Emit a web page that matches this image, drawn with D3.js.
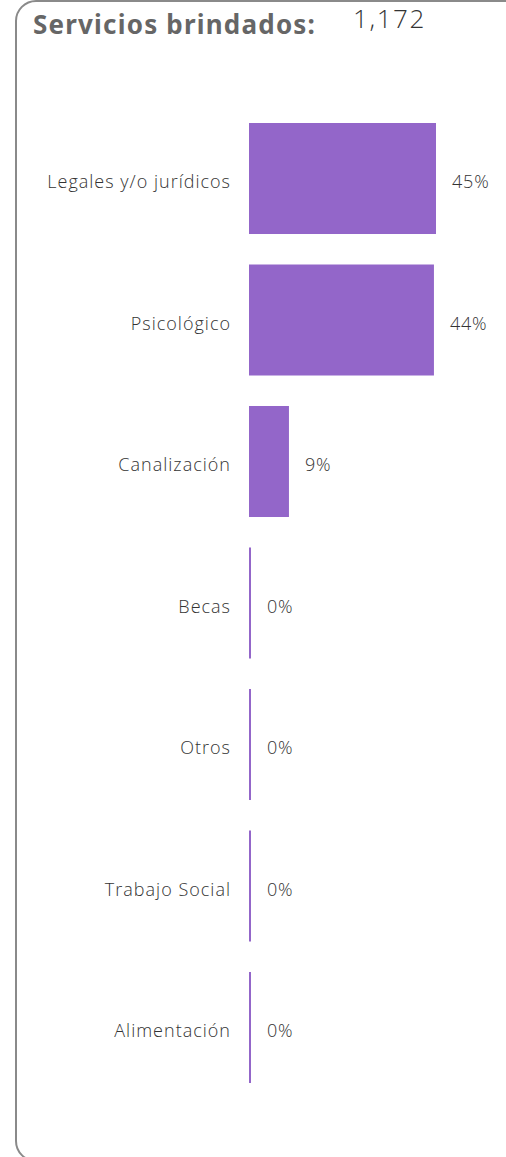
<!DOCTYPE html>
<html><head><meta charset="utf-8">
<script src="https://cdn.jsdelivr.net/npm/d3@7"></script>
<style>html,body{margin:0;padding:0;background:#fff;overflow:hidden}</style>
</head><body>
<svg id="chart" width="506" height="1157"></svg>
<script>
const categories = ["Legales y/o jurídicos","Psicológico","Canalización","Becas","Otros","Trabajo Social","Alimentación"];
const values = [45.4, 44.9, 9.7, 0, 0, 0, 0];
const totalLabel = "1,172";
const titleText = "Servicios brindados:";

const svg = d3.select("#chart");
svg.append("rect").attr("x",16).attr("y",1).attr("width",620).attr("height",1160)
  .attr("rx",20).attr("fill","none").attr("stroke","#8a8a8a").attr("stroke-width",2);

svg.append("text").attr("x",33).attr("y",34).text(titleText)
  .attr("font-family","'Noto Sans', sans-serif").attr("font-weight",700)
  .attr("font-size",26).attr("fill","#666").attr("letter-spacing","1.2px");
svg.append("text").attr("x",353).attr("y",28).text(totalLabel)
  .attr("font-family","'Open Sans', sans-serif").attr("font-weight",300)
  .attr("font-size",26).attr("fill","#333").attr("letter-spacing","1.6px");

const y = d3.scaleBand().domain(categories).range([123, 1083]).paddingInner(0.2155).paddingOuter(0);
const x = d3.scaleLinear().domain([0, 45.4]).range([249, 436]);

const g = svg.append("g");
g.selectAll("rect.bar").data(values).join("rect").attr("class","bar")
  .attr("x", x(0)).attr("y",(d,i)=>y(categories[i]))
  .attr("width", d=>Math.max(2, x(d)-x(0))).attr("height", y.bandwidth())
  .attr("fill","#9366c9");

const axis = d3.axisLeft(y).tickSize(0).tickPadding(18);
const ax = svg.append("g").attr("transform",`translate(${x(0)},0)`).call(axis);
ax.select(".domain").remove();
ax.selectAll("text").attr("font-family","'Open Sans', sans-serif").attr("font-weight",300).attr("font-size",18)
  .attr("fill","#333").attr("dy","0.53em").attr("letter-spacing","1px");

g.selectAll("text.val").data(values).join("text").attr("class","val")
  .attr("x", d=>x(0)+Math.max(2, x(d)-x(0))+16)
  .attr("y",(d,i)=>y(categories[i])+y.bandwidth()/2).attr("dy","0.53em")
  .text(d=>Math.floor(d)+"%")
  .attr("font-family","'Open Sans', sans-serif").attr("font-weight",300).attr("font-size",18)
  .attr("fill","#333").attr("letter-spacing","0.8px");
</script>
</body></html>
